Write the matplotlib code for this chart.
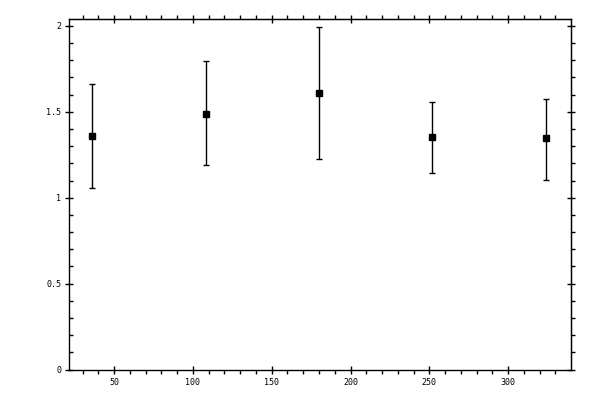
import matplotlib
matplotlib.use("Agg")
import matplotlib.pyplot as plt
from matplotlib.ticker import MultipleLocator

# values
x = [36, 108, 180, 252, 324]
y = [1.362, 1.490, 1.607, 1.352, 1.346]
upper = [1.663, 1.794, 1.994, 1.560, 1.576]
lower = [1.056, 1.193, 1.228, 1.146, 1.105]

err_lo = [v - lo for v, lo in zip(y, lower)]
err_hi = [hi - v for v, hi in zip(y, upper)]

plt.rcParams['font.family'] = ['DejaVu Sans Mono']

fig = plt.figure(figsize=(6, 4), dpi=100)
ax = fig.add_axes([0.1155, 0.076, 0.8355, 0.876])

ax.errorbar(x, y, yerr=[err_lo, err_hi], fmt='s', color='black',
            ms=5, lw=1, elinewidth=1, capsize=2.5, capthick=1)

ax.set_xlim(21.5, 339.7)
ax.set_ylim(0, 2.039)

ax.xaxis.set_major_locator(MultipleLocator(50))
ax.xaxis.set_minor_locator(MultipleLocator(10))
ax.yaxis.set_major_locator(MultipleLocator(0.5))
ax.yaxis.set_minor_locator(MultipleLocator(0.1))
ax.yaxis.set_major_formatter(lambda v, pos: f"{v:g}")

ax.tick_params(axis='x', which='major', direction='inout', length=5.8, width=1, labelsize=6, pad=3)
ax.tick_params(axis='x', which='minor', direction='out', length=2.9, width=1)
ax.tick_params(axis='y', which='major', direction='inout', length=5.8, width=1, labelsize=6, pad=3)
ax.tick_params(axis='y', which='minor', direction='in', length=2.9, width=1)

for s in ax.spines.values():
    s.set_linewidth(1)

# top and right axes, no labels, ticks pointing outwards
top = ax.secondary_xaxis('top')
top.xaxis.set_major_locator(MultipleLocator(50))
top.xaxis.set_minor_locator(MultipleLocator(10))
top.tick_params(which='major', direction='inout', length=5.8, width=1, labeltop=False)
top.tick_params(which='minor', direction='out', length=2.9, width=1)

right = ax.secondary_yaxis('right')
right.yaxis.set_major_locator(MultipleLocator(0.5))
right.yaxis.set_minor_locator(MultipleLocator(0.1))
right.tick_params(which='major', direction='inout', length=5.8, width=1, labelright=False)
right.tick_params(which='minor', direction='out', length=2.9, width=1)

fig.savefig('out.png', dpi=100)
